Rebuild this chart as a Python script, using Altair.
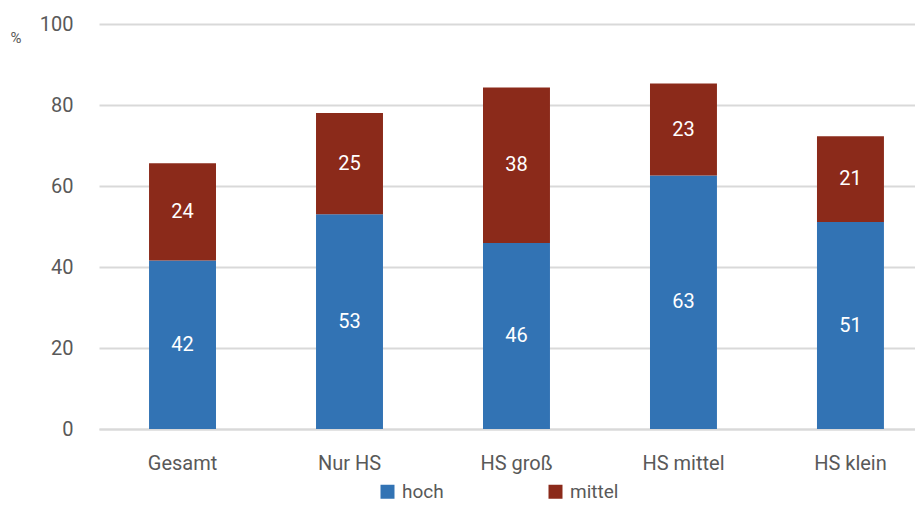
import altair as alt
import pandas as pd

categories = ["Gesamt", "Nur HS", "HS groß", "HS mittel", "HS klein"]
hoch = [41.6, 53.0, 45.9, 62.6, 51.1]
mittel = [24.0, 25.0, 38.4, 22.7, 21.2]
series = ["hoch", "mittel"]
colors = ["#3273b4", "#8b2a1a"]

rows = []
for i, c in enumerate(categories):
    rows.append({"cat": c, "serie": "hoch", "order": 0, "value": hoch[i]})
    rows.append({"cat": c, "serie": "mittel", "order": 1, "value": mittel[i]})
df = pd.DataFrame(rows)

FONT = "Roboto"
GRAY = "#595959"

x = alt.X("cat:N", sort=categories, title=None,
          scale=alt.Scale(paddingInner=0.599, paddingOuter=0.2428, align=0.617),
          axis=alt.Axis(labelAngle=0, ticks=False, domain=True, domainColor="#d9d9d9",
                        domainWidth=2, labelPadding=24, labelFontSize=20,
                        labelColor=GRAY, labelFont=FONT, grid=False))

base = alt.Chart(df).transform_stack(
    stack="value", groupby=["cat"], as_=["y0", "y1"],
    sort=[alt.SortField("order", order="ascending")]
).transform_calculate(mid="(datum.y0 + datum.y1) / 2")

bars = base.mark_bar().encode(
    x=x,
    y=alt.Y("y0:Q", title="%",
            scale=alt.Scale(domain=[0, 100]),
            axis=alt.Axis(values=[0, 20, 40, 60, 80, 100], domain=False, ticks=False,
                          gridColor="#d9d9d9", gridWidth=2, labelPadding=26,
                          labelFontSize=20, labelColor=GRAY, labelFont=FONT,
                          titleAngle=0, titleAlign="left", titleBaseline="middle",
                          titleX=-89, titleY=13, titleFontSize=15,
                          titleFontWeight="normal", titleColor=GRAY, titleFont=FONT)),
    y2="y1:Q",
    color=alt.Color("serie:N", scale=alt.Scale(domain=series, range=colors),
                    legend=alt.Legend(title=None, orient="none", direction="horizontal",
                                      legendX=279, legendY=458, padding=0,
                                      symbolType="square", symbolSize=196,
                                      symbolStrokeWidth=0, symbolOpacity=1,
                                      labelFontSize=19, labelColor=GRAY, labelFont=FONT,
                                      labelOffset=5, columnPadding=102)),
    order=alt.Order("order:Q"),
)

labels = base.mark_text(color="white", fontSize=20, font=FONT).encode(
    x=alt.X("cat:N", sort=categories),
    y=alt.Y("mid:Q"),
    text=alt.Text("value:Q", format=".0f"),
)

chart = alt.layer(bars, labels).properties(
    width=816, height=405,
    autosize=alt.AutoSizeParams(type="none"),
    padding={"left": 91, "top": 16, "right": 0, "bottom": 73},
).configure_view(stroke=None)

chart.save("out.html", embed_options={"renderer": "svg", "actions": False})
